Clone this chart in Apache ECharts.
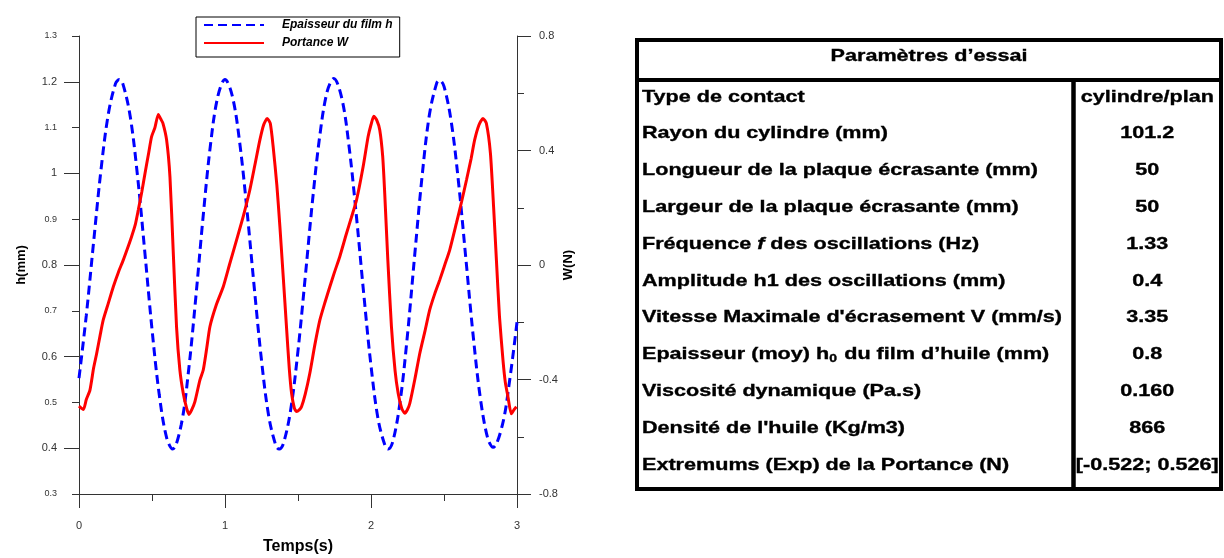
<!DOCTYPE html>
<html>
<head>
<meta charset="utf-8">
<title>Epaisseur du film et portance</title>
<script src="https://cdn.jsdelivr.net/npm/echarts@6/dist/echarts.min.js"></script>
<style>
  html, body { margin: 0; padding: 0; background: #fff; }
  #chart { width: 1224px; height: 558px; }
</style>
</head>
<body>
<div id="chart"></div>
<script>
// Film thickness h (mm) versus time (s)
const timeH = [0, 0.05, 0.1, 0.15, 0.2, 0.25, 0.276, 0.3, 0.35, 0.4, 0.45, 0.5, 0.55, 0.6, 0.641,
  0.7, 0.75, 0.8, 0.85, 0.9, 0.95, 1.0, 1.05, 1.1, 1.15, 1.2, 1.25, 1.3, 1.35, 1.371,
  1.4, 1.45, 1.5, 1.55, 1.6, 1.65, 1.7, 1.745, 1.8, 1.85, 1.9, 1.95, 2.0, 2.05, 2.1, 2.117,
  2.15, 2.2, 2.25, 2.3, 2.35, 2.4, 2.45, 2.47, 2.5, 2.55, 2.6, 2.65, 2.7, 2.75, 2.8, 2.836,
  2.9, 2.95, 3.0];
const thickness = [0.553, 0.690, 0.850, 1.006, 1.128, 1.196, 1.205, 1.196, 1.126, 0.997, 0.831, 0.660, 0.516, 0.423, 0.398,
  0.451, 0.568, 0.729, 0.905, 1.061, 1.167, 1.205, 1.169, 1.069, 0.921, 0.752, 0.592, 0.469, 0.404, 0.398,
  0.410, 0.484, 0.613, 0.775, 0.942, 1.084, 1.179, 1.207, 1.164, 1.058, 0.907, 0.738, 0.580, 0.461, 0.402, 0.398,
  0.415, 0.503, 0.648, 0.824, 0.994, 1.128, 1.197, 1.203, 1.190, 1.112, 0.979, 0.813, 0.645, 0.507, 0.421, 0.402,
  0.451, 0.549, 0.675];

// Lift W (N) versus time (s)
const timeW = [0, 0.03, 0.05, 0.075, 0.10, 0.121, 0.145, 0.166, 0.20, 0.235, 0.27, 0.303, 0.33, 0.36, 0.385,
  0.406, 0.43, 0.452, 0.475, 0.497, 0.52, 0.543, 0.56, 0.575, 0.60, 0.623, 0.645, 0.668, 0.691, 0.714,
  0.737, 0.753, 0.771, 0.794, 0.828, 0.851, 0.875, 0.897, 0.94, 0.988, 1.03, 1.079, 1.125, 1.17, 1.205,
  1.239, 1.265, 1.289, 1.31, 1.33, 1.355, 1.376, 1.40, 1.421, 1.44, 1.456, 1.475, 1.49, 1.51, 1.524,
  1.55, 1.581, 1.615, 1.65, 1.685, 1.718, 1.75, 1.786, 1.832, 1.865, 1.901, 1.946, 1.98, 2.0, 2.019,
  2.04, 2.06, 2.08, 2.094, 2.115, 2.14, 2.165, 2.186, 2.21, 2.231, 2.25, 2.266, 2.30, 2.334, 2.37,
  2.402, 2.437, 2.471, 2.505, 2.539, 2.585, 2.62, 2.654, 2.685, 2.71, 2.74, 2.767, 2.79, 2.818, 2.84,
  2.859, 2.88, 2.904, 2.92, 2.938, 2.961, 2.98, 2.996];
const lift = [-0.493, -0.505, -0.47, -0.437, -0.36, -0.309, -0.245, -0.192, -0.135, -0.076, -0.025, 0.017, 0.055, 0.099, 0.14,
  0.192, 0.255, 0.32, 0.385, 0.448, 0.48, 0.526, 0.51, 0.495, 0.437, 0.308, 0.052, -0.215, -0.367, -0.448,
  -0.50, -0.522, -0.507, -0.477, -0.402, -0.367, -0.29, -0.215, -0.14, -0.076, 0.0, 0.087, 0.17, 0.262, 0.35,
  0.437, 0.49, 0.512, 0.495, 0.413, 0.28, 0.134, -0.05, -0.215, -0.36, -0.448, -0.50, -0.512, -0.505, -0.495,
  -0.45, -0.378, -0.28, -0.192, -0.13, -0.076, -0.025, 0.029, 0.11, 0.165, 0.227, 0.343, 0.448, 0.49, 0.52,
  0.505, 0.472, 0.38, 0.25, 0.02, -0.215, -0.37, -0.448, -0.50, -0.518, -0.505, -0.483, -0.40, -0.309, -0.23,
  -0.157, -0.10, -0.052, 0.0, 0.052, 0.146, 0.22, 0.297, 0.37, 0.437, 0.49, 0.512, 0.495, 0.39, 0.20,
  0.017, -0.18, -0.332, -0.41, -0.46, -0.52, -0.505, -0.495];

// Axis ticks
const hMajorTicks = [0.4, 0.6, 0.8, 1.0, 1.2];

// Test parameters table
const tableTitle = 'Paramètres d’essai';
const paramLabels = [
  'Type de contact',
  'Rayon du cylindre (mm)',
  'Longueur de la plaque écrasante (mm)',
  'Largeur de la plaque écrasante (mm)',
  'Fréquence {it|f} des oscillations (Hz)',
  'Amplitude h1 des oscillations (mm)',
  "Vitesse Maximale d'écrasement V (mm/s)",
  'Epaisseur (moy) h{sub|0} du film d’huile (mm)',
  'Viscosité dynamique (Pa.s)',
  "Densité de l'huile (Kg/m3)",
  'Extremums (Exp) de la Portance (N)'
];
const paramValues = ['cylindre/plan', '101.2', '50', '50', '1.33', '0.4', '3.35', '0.8', '0.160', '866', '[-0.522; 0.526]'];

const FONT = '"Liberation Sans", Arial, Helvetica, sans-serif';
const AXIS_COLOR = '#333';

const pairs = (xs, ys) => xs.map((x, i) => [x, ys[i]]);

// Table drawn as graphic elements (text is horizontally widened)
const TBL = { left: 637, top: 40, right: 1221, bottom: 489, head: 80, split: 1073.5 };
const ROW0 = 97, ROW_STEP = 36.8, SX = 1.27;
const cellText = (x, y, text, align) => ({
  type: 'text', x: x, y: y, scaleX: SX, scaleY: 1, silent: true,
  style: {
    text: text, fill: '#000', stroke: '#000', lineWidth: 0.35,
    fontFamily: FONT, fontSize: 17, fontWeight: 'bold',
    align: align, verticalAlign: 'middle', textAlign: align, textVerticalAlign: 'middle',
    rich: {
      it: { fontFamily: FONT, fontSize: 17, fontWeight: 'bold', fontStyle: 'italic', fill: '#000', stroke: '#000', lineWidth: 0.35 },
      sub: { fontFamily: FONT, fontSize: 11, fontWeight: 'bold', fill: '#000', verticalAlign: 'bottom', padding: [8, 1, 0, 0] }
    }
  }
});
const tableElements = [
  { type: 'rect', silent: true, shape: { x: TBL.left, y: TBL.top, width: TBL.right - TBL.left, height: TBL.bottom - TBL.top },
    style: { fill: 'none', stroke: '#000', lineWidth: 4 } },
  { type: 'line', silent: true, shape: { x1: TBL.left, y1: TBL.head, x2: TBL.right, y2: TBL.head },
    style: { stroke: '#000', lineWidth: 4 } },
  { type: 'line', silent: true, shape: { x1: TBL.split, y1: TBL.head, x2: TBL.split, y2: TBL.bottom },
    style: { stroke: '#000', lineWidth: 4.5 } },
  cellText((TBL.left + TBL.right) / 2, 56, tableTitle, 'center')
];
paramLabels.forEach((lab, i) => {
  const y = ROW0 + i * ROW_STEP;
  tableElements.push(cellText(642, y, lab, 'left'));
  tableElements.push(cellText((TBL.split + TBL.right) / 2, y, paramValues[i], 'center'));
});

const chart = echarts.init(document.getElementById('chart'), null, { renderer: 'canvas' });
chart.setOption({
  animation: false,
  backgroundColor: '#fff',
  textStyle: { fontFamily: FONT },
  grid: { left: 79, right: 707, top: 36, bottom: 64, containLabel: false, outerBoundsMode: 'none' },
  legend: {
    orient: 'vertical', left: 196, top: 17,
    itemWidth: 60, itemHeight: 12, itemGap: 6,
    padding: [2, 7, 8, 7],
    borderColor: '#000', borderWidth: 1, borderRadius: 0,
    itemStyle: { opacity: 0 },
    textStyle: { fontFamily: FONT, fontSize: 12, fontWeight: 'bold', fontStyle: 'italic', color: '#000', padding: [0, 0, 0, 13] },
    data: ['Epaisseur du film h', 'Portance W']
  },
  xAxis: {
    type: 'value', min: 0, max: 3, interval: 1,
    name: 'Temps(s)', nameLocation: 'middle', nameGap: 45,
    nameTextStyle: { fontFamily: FONT, fontSize: 16, fontWeight: 'bold', color: '#000' },
    axisLine: { show: true, onZero: false, lineStyle: { color: AXIS_COLOR, width: 1 } },
    axisTick: { show: true, length: 14, lineStyle: { color: AXIS_COLOR } },
    minorTick: { show: true, splitNumber: 2, length: 7, lineStyle: { color: AXIS_COLOR } },
    axisLabel: { margin: 26, fontSize: 11, color: AXIS_COLOR },
    splitLine: { show: false }
  },
  yAxis: [
    {
      type: 'value', position: 'left', min: 0.3, max: 1.3, interval: 0.1,
      name: 'h(mm)', nameLocation: 'middle', nameGap: 51, nameRotate: 90,
      nameTextStyle: { fontFamily: FONT, fontSize: 13, fontWeight: 'bold', color: '#000' },
      axisLine: { show: true, onZero: false, lineStyle: { color: AXIS_COLOR, width: 1 } },
      axisTick: { show: true, length: 7, lineStyle: { color: AXIS_COLOR } },
      axisLabel: {
        margin: 22, color: AXIS_COLOR,
        formatter: function (v) {
          const k = Math.round(v * 10);
          const s = String(k / 10);
          return k % 2 === 0 ? '{big|' + s + '}' : '{small|' + s + '}';
        },
        rich: {
          big: { fontFamily: FONT, fontSize: 11, color: AXIS_COLOR },
          small: { fontFamily: FONT, fontSize: 9, color: AXIS_COLOR }
        }
      },
      splitLine: { show: false }
    },
    {
      type: 'value', position: 'right', min: -0.8, max: 0.8, interval: 0.4,
      name: 'W(N)', nameLocation: 'middle', nameGap: 45, nameRotate: 90,
      nameTextStyle: { fontFamily: FONT, fontSize: 13, fontWeight: 'bold', color: '#000' },
      axisLine: { show: true, onZero: false, lineStyle: { color: AXIS_COLOR, width: 1 } },
      axisTick: { show: true, length: 14, lineStyle: { color: AXIS_COLOR } },
      minorTick: { show: true, splitNumber: 2, length: 7, lineStyle: { color: AXIS_COLOR } },
      axisLabel: { margin: 22, fontSize: 11, color: AXIS_COLOR },
      splitLine: { show: false }
    },
    {
      // long ticks on the even tenths of the h axis
      type: 'value', position: 'left', min: 0.3, max: 1.3, interval: 0.1,
      axisLine: { show: false },
      axisLabel: { show: false },
      axisTick: { show: true, length: 15, customValues: hMajorTicks, lineStyle: { color: AXIS_COLOR } },
      splitLine: { show: false }
    }
  ],
  series: [
    {
      name: 'Epaisseur du film h', type: 'line', yAxisIndex: 0,
      data: pairs(timeH, thickness),
      symbol: 'none', smooth: 0.35, z: 2,
      lineStyle: { color: '#0000ff', width: 3, type: [9, 5], cap: 'butt' },
      itemStyle: { color: '#0000ff' }
    },
    {
      name: 'Portance W', type: 'line', yAxisIndex: 1,
      data: pairs(timeW, lift),
      symbol: 'none', smooth: 0.2, z: 3,
      lineStyle: { color: '#ff0000', width: 3 },
      itemStyle: { color: '#ff0000' }
    }
  ],
  graphic: { elements: tableElements }
});
</script>
</body>
</html>
